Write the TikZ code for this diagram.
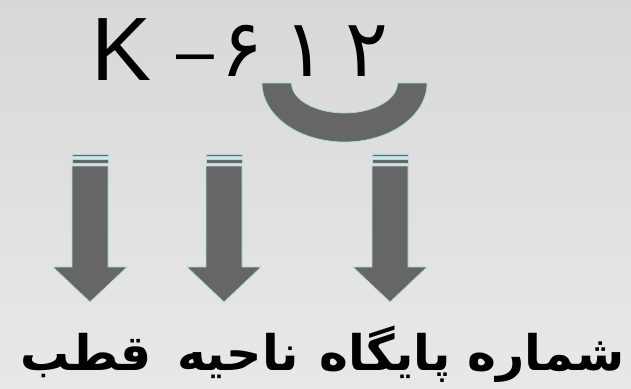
\documentclass[tikz,border=0pt]{standalone}
\usepackage{fontspec}
\setmainfont{Liberation Sans}
\newfontfamily\arabicfont[Script=Arabic]{DejaVu Sans}
\TeXXeTstate=1
\definecolor{bgtop}{HTML}{D8D8D8}
\definecolor{bgbottom}{HTML}{E8E8E8}
\definecolor{blockgray}{HTML}{666666}
\definecolor{rimcyan}{HTML}{A9DCE0}
\tikzset{
  block/.style={fill=blockgray, draw=rimcyan, line width=0.7pt},
  code/.style={inner sep=0pt, anchor=base, font=\fontsize{90}{90}\selectfont},
  digit/.style={inner sep=0pt, anchor=base, font=\arabicfont\fontsize{80}{80}\selectfont},
  partname/.style={inner sep=0pt, anchor=base, font=\arabicfont\bfseries\fontsize{49}{49}\selectfont}
}

\begin{document}
\begin{tikzpicture}[x=1pt, y=-1pt]
  \useasboundingbox (0,0) rectangle (631,388);
  \shade[top color=bgtop, bottom color=bgbottom] (0,0) rectangle (631,388);

  \node[code, anchor=base west] (pole) at (91.4,80) {K};
  \node[code, font=\fontsize{68}{68}\selectfont] (dash) at (195,74) {–};
  \node[digit] (region) at (242,76) {۶};
  \node[digit] (baseA) at (305,76) {۱};
  \node[digit] (baseB) at (367,76) {۲};

  \draw[block] (262,83)
    arc[start angle=180, end angle=360, x radius=82.5pt, y radius=59pt]
    -- (397.5,83)
    arc[start angle=0, end angle=-180, x radius=53pt, y radius=30pt]
    -- cycle;

  \foreach \x/\n in {90/pole, 224/region, 390/base} {
    \draw[block] (\x-18,154) rectangle (\x+18,156);
    \draw[block] (\x-18,159) rectangle (\x+18,163);
    \draw[block] (\x-18,166) -- (\x+18,166) -- (\x+18,267) -- (\x+37,267)
      -- (\x,302) coordinate (\n tip) -- (\x-37,267) -- (\x-18,267) -- cycle;
  }

  \node[partname] (poleName) at (86,370) {\beginR قطب\endR};
  \node[partname] (regionName) at (238,370) {\beginR ناحیه\endR};
  \node[partname] (baseName) at (472,370) {\beginR شماره پایگاه\endR};
\end{tikzpicture}
\end{document}
